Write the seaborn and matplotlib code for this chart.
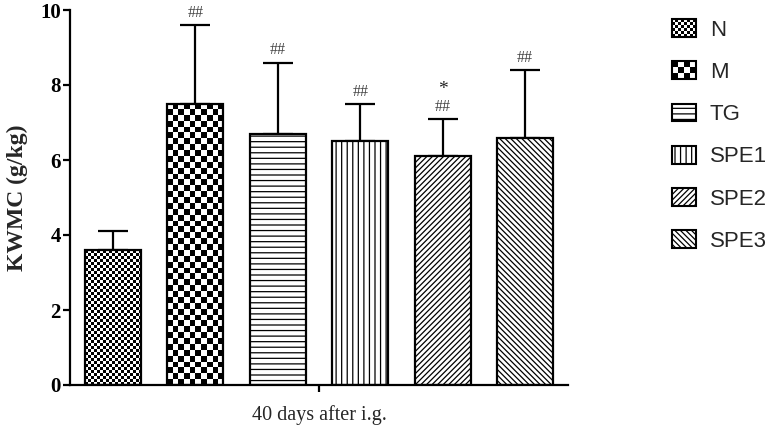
import numpy as np
import pandas as pd
import matplotlib
matplotlib.use("Agg")
import matplotlib.pyplot as plt
import seaborn as sns
from matplotlib.patches import Rectangle, Patch
from matplotlib.legend_handler import HandlerBase

# Data
groups = ["N", "M", "TG", "SPE1", "SPE2", "SPE3"]
means = [3.6, 7.5, 6.7, 6.5, 6.1, 6.6]
sds = [0.5, 2.1, 1.9, 1.0, 1.0, 1.8]
hash_marks = ["", "##", "##", "##", "##", "##"]
star_marks = ["", "", "", "", "*", ""]
yticks = [0, 2, 4, 6, 8, 10]

df = pd.DataFrame({"group": groups, "mean": means, "sd": sds})

# fill style per group: ("checker", cell px) or ("hatch", pattern)
fills = {
    "N": ("checker", 3.0),
    "M": ("checker", 5.8),
    "TG": ("hatch", "---"),
    "SPE1": ("hatch", "|||"),
    "SPE2": ("hatch", "//////"),
    "SPE3": ("hatch", "\\\\\\\\\\\\"),
}

sns.set_style("ticks")
plt.rcParams["font.family"] = ["Liberation Serif", "DejaVu Serif"]
plt.rcParams["hatch.linewidth"] = 0.9

W, H = 771, 433
fig = plt.figure(figsize=(W / 100, H / 100), dpi=100)
ax = fig.add_axes([70 / W, 1 - 385 / H, (568 - 70) / W, (385 - 10) / H])

xlim = (-0.52, 5.52)
ylim = (0, 10)

sns.barplot(data=df, x="group", y="mean", width=0.68, color="white",
            saturation=1, edgecolor="black", linewidth=1.6, errorbar=None,
            ax=ax, zorder=2)

ax.errorbar(np.arange(len(groups)), means, yerr=[np.zeros(len(sds)), sds],
            fmt="none", ecolor="black", elinewidth=1.6, capsize=11,
            capthick=1.6, zorder=1)

# pixels per data unit (for checker textures)
px_x = (568 - 70) / (xlim[1] - xlim[0])
px_y = (385 - 10) / (ylim[1] - ylim[0])

for p, g in zip(ax.patches, groups):
    kind, spec = fills[g]
    if kind == "hatch":
        p.set_hatch(spec)
        p.set_facecolor("white")
    else:
        x0, y0, w, h = p.get_x(), p.get_y(), p.get_width(), p.get_height()
        nx = max(1, int(round(w * px_x / spec)))
        ny = max(1, int(round(h * px_y / spec)))
        arr = np.indices((ny, nx)).sum(axis=0) % 2
        p.set_facecolor("none")
        ax.imshow(arr, extent=[x0, x0 + w, y0, y0 + h], cmap="gray",
                  vmin=0, vmax=1, interpolation="nearest", aspect="auto",
                  origin="lower", zorder=1.5)

for i, (m, s) in enumerate(zip(means, sds)):
    if hash_marks[i]:
        ax.annotate(hash_marks[i], xy=(i, m + s), xytext=(0, 3),
                    textcoords="offset points", ha="center", va="bottom",
                    fontsize=11.5, color="#444444")
    if star_marks[i]:
        ax.annotate(star_marks[i], xy=(i, m + s), xytext=(0, 15),
                    textcoords="offset points", ha="center", va="bottom",
                    fontsize=14, color="#222222")

ax.set_xlim(*xlim)
ax.set_ylim(*ylim)
ax.set_yticks(yticks)
ax.set_yticklabels([str(t) for t in yticks], fontsize=15, fontweight="bold")
ax.set_xticks([2.5])
ax.set_xticklabels([""])
ax.tick_params(axis="both", direction="out", length=5, width=1.6,
               colors="black", pad=1.5)
ax.set_xlabel("40 days after i.g.", fontsize=14.5, labelpad=8)
ax.set_ylabel("KWMC (g/kg)", fontsize=17, fontweight="bold", labelpad=9)
sns.despine(ax=ax)
for sp in ["left", "bottom"]:
    ax.spines[sp].set_linewidth(1.6)
    ax.spines[sp].set_color("black")


class CheckerHandler(HandlerBase):
    def __init__(self, nx, ny):
        super().__init__()
        self.nx, self.ny = nx, ny

    def create_artists(self, legend, orig_handle, xdescent, ydescent,
                       width, height, fontsize, trans):
        arts = []
        cw, ch = width / self.nx, height / self.ny
        for i in range(self.nx):
            for j in range(self.ny):
                if (i + j) % 2 == 0:
                    arts.append(Rectangle((-xdescent + i * cw, -ydescent + j * ch),
                                          cw, ch, facecolor="black",
                                          edgecolor="none", transform=trans))
        arts.append(Rectangle((-xdescent, -ydescent), width, height,
                              facecolor="none", edgecolor="black",
                              linewidth=1.5, transform=trans))
        return arts


handles = []
handler_map = {}
for g in groups:
    kind, spec = fills[g]
    if kind == "hatch":
        h = Patch(facecolor="white", edgecolor="black", hatch=spec, linewidth=1.5)
    else:
        h = Patch(facecolor="white", edgecolor="black")
        handler_map[h] = CheckerHandler(8, 6) if g == "N" else CheckerHandler(4, 3)
    handles.append(h)

fs = 16
fs_px = fs * 100 / 72
fig.legend(handles, groups, loc="upper left",
           bbox_to_anchor=(672 / W, 1 - 19 / H), frameon=False,
           prop={"family": ["Liberation Sans", "DejaVu Sans"], "size": fs},
           handlelength=24 / fs_px, handleheight=19 / fs_px,
           handletextpad=14 / fs_px, labelspacing=0.93,
           borderpad=0, borderaxespad=0, handler_map=handler_map)

fig.savefig("out.png", dpi=100)
